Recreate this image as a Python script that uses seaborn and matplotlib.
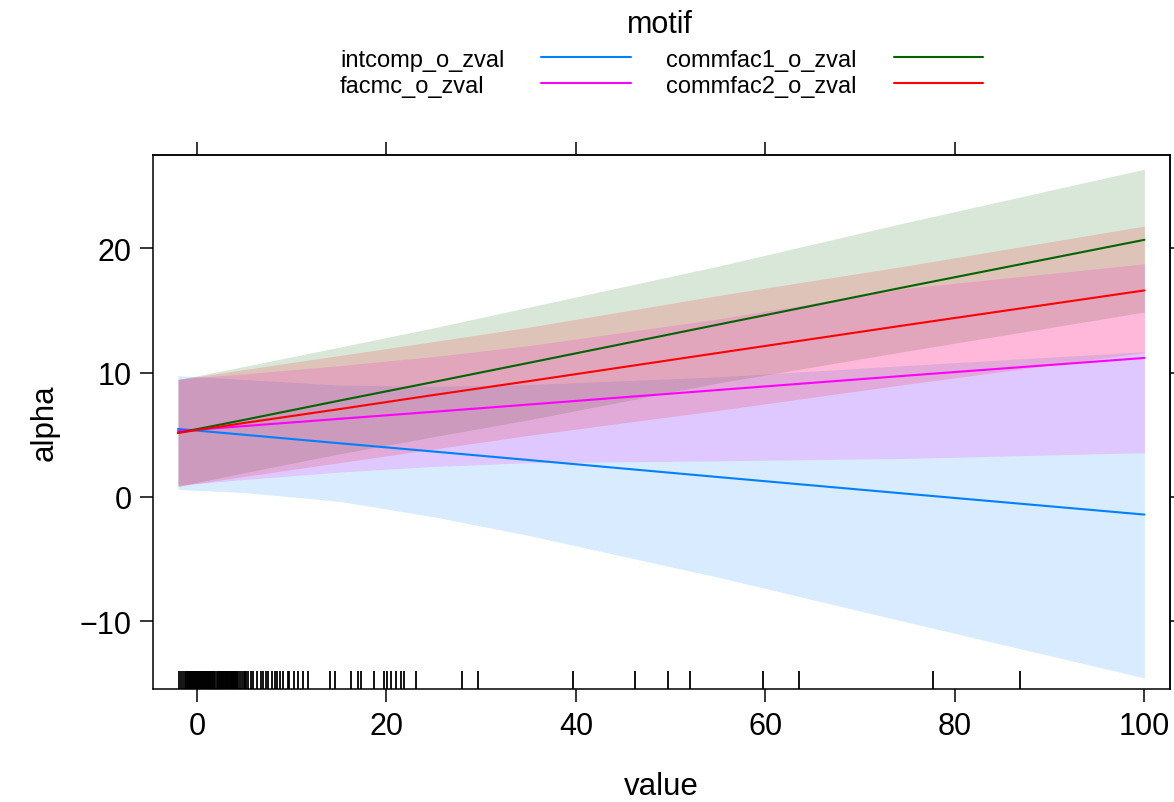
import numpy as np
import pandas as pd
import matplotlib
matplotlib.use("Agg")
import matplotlib.pyplot as plt
from matplotlib.lines import Line2D
import seaborn as sns

# ---- data ----
motifs = ["intcomp_o_zval", "facmc_o_zval", "commfac1_o_zval", "commfac2_o_zval"]
colors = ["#0080FF", "#FF00FF", "#006400", "#FF0000"]

x_pts = [-2, 5, 15, 25, 35, 55, 75, 100]

fit_intcomp = [5.47, 5.0, 4.32, 3.65, 2.97, 1.60, 0.25, -1.42]
lo_intcomp = [0.6, 0.35, -0.35, -1.6, -3.1, -6.46, -10.08, -14.56]
hi_intcomp = [9.76, 9.45, 9.0, 8.9, 9.04, 9.66, 10.58, 11.68]

fit_facmc = [5.30, 5.70, 6.28, 6.85, 7.43, 8.60, 9.76, 11.18]
lo_facmc = [0.95, 1.4, 2.0, 2.45, 2.75, 2.9, 3.1, 3.56]
hi_facmc = [9.5, 9.9, 10.56, 11.3, 12.17, 14.32, 16.8, 18.75]

fit_commfac1 = [5.15, 6.2, 7.74, 9.25, 10.78, 13.86, 16.92, 20.68]
lo_commfac1 = [0.85, 1.95, 3.46, 4.85, 6.2, 9.16, 11.74, 14.87]
hi_commfac1 = [9.44, 10.5, 12.04, 13.6, 15.26, 18.56, 22.1, 26.36]

fit_commfac2 = [5.15, 5.95, 7.06, 8.2, 9.31, 11.58, 13.84, 16.61]
lo_commfac2 = [0.85, 1.65, 2.75, 3.85, 4.95, 6.96, 9.08, 11.6]
hi_commfac2 = [9.44, 10.25, 11.37, 12.5, 13.65, 16.2, 18.6, 21.79]

rug_values = [-1.87, -1.69, -1.44, -1.27, -1.15, -1.0, -0.9, -0.8, -0.7, -0.6, -0.5, -0.4,
              -0.3, -0.2, -0.1, 0.0, 0.1, 0.2, 0.3, 0.4, 0.5, 0.63, 0.75, 0.85, 0.95, 1.05,
              1.15, 1.25, 1.35, 1.45, 1.55, 1.65, 1.75, 1.85, 1.95, 2.08, 2.22, 2.35, 2.45,
              2.55, 2.65, 2.75, 2.85, 2.95, 3.05, 3.15, 3.25, 3.35, 3.45, 3.55, 3.65, 3.75,
              3.85, 3.95, 4.05, 4.15, 4.25, 4.35, 4.54, 4.72, 4.96, 5.07, 5.17, 5.42, 5.67,
              5.88, 6.3, 6.72, 7.0, 7.28, 7.53, 7.88, 8.23, 8.48, 8.76, 9.08, 9.57, 9.74,
              10.24, 10.69, 11.22, 11.75, 14.0, 14.6, 16.3, 17.0, 17.3, 18.7, 19.7, 20.1,
              20.5, 21.0, 21.5, 21.9, 23.1, 28.0, 29.7, 39.7, 46.2, 49.7, 52.0, 59.7, 63.5,
              77.7, 86.9]

fits = [fit_intcomp, fit_facmc, fit_commfac1, fit_commfac2]
los = [lo_intcomp, lo_facmc, lo_commfac1, lo_commfac2]
his = [hi_intcomp, hi_facmc, hi_commfac1, hi_commfac2]

rows = []
for m, f, lo, hi in zip(motifs, fits, los, his):
    for xv, fv, lv, hv in zip(x_pts, f, lo, hi):
        rows.append({"value": xv, "alpha": fv, "lo": lv, "hi": hv, "motif": m})
df = pd.DataFrame(rows)

sns.set_theme(style="white")
plt.rcParams["font.family"] = ["Liberation Sans", "DejaVu Sans"]
plt.rcParams["text.color"] = "black"
plt.rcParams["axes.labelcolor"] = "black"
plt.rcParams["xtick.color"] = "black"
plt.rcParams["ytick.color"] = "black"

fig = plt.figure(figsize=(11.74, 8.03), dpi=100)
ax = fig.add_axes([0.1303, 0.1407, 0.9966 - 0.1303, 0.8057 - 0.1407])

palette = dict(zip(motifs, colors))
draw_order = ["intcomp_o_zval", "commfac1_o_zval", "facmc_o_zval", "commfac2_o_zval"]
for m in draw_order:
    d = df[df["motif"] == m]
    ax.fill_between(d["value"], d["lo"], d["hi"], color=palette[m], alpha=0.15,
                    linewidth=0, zorder=1)

sns.lineplot(data=df, x="value", y="alpha", hue="motif", hue_order=motifs,
             palette=palette, linewidth=1.5, legend=False, ax=ax, zorder=3,
             estimator=None, sort=True)

sns.rugplot(x=rug_values, height=0.034, color="black", linewidth=1.3, ax=ax,
            expand_margins=False, zorder=2)

ax.set_xlim(-4.64, 102.7)
ax.set_ylim(-15.45, 27.5)
ax.set_xticks([0, 20, 40, 60, 80, 100])
ax.set_yticks([-10, 0, 10, 20])
ax.set_yticklabels(["\u221210", "0", "10", "20"])
ax.tick_params(axis="both", direction="out", length=9.5, width=1.1, labelsize=22,
               colors="black", pad=6, bottom=True, left=True)
for s in ax.spines.values():
    s.set_color("black")
    s.set_linewidth(1.1)

sec_top = ax.secondary_xaxis("top")
sec_top.set_xticks([0, 20, 40, 60, 80])
sec_top.tick_params(direction="out", length=9.5, width=1.1, labeltop=False)
sec_top.set_xticklabels([])
sec_right = ax.secondary_yaxis("right")
sec_right.set_yticks([-10, 0, 10, 20])
sec_right.tick_params(direction="out", length=9.5, width=1.1, labelright=False)
sec_right.set_yticklabels([])

ax.set_xlabel("value", fontsize=22.5, labelpad=22)
ax.set_ylabel("alpha", fontsize=22.5, labelpad=14)

# legend (lattice style: text then line, two columns)
fig.text(0.562, 0.969, "motif", fontsize=22, ha="center", va="center")
rows_y = [0.9245, 0.892]
col_text_x = [0.2896, 0.5673]
col_line_x = [(0.4608, 0.5375), (0.7615, 0.8373)]
for i, m in enumerate(motifs):
    c, r = divmod(i, 2)
    fig.text(col_text_x[c], rows_y[r], m, fontsize=17, ha="left", va="center")
    fig.add_artist(Line2D(list(col_line_x[c]), [rows_y[r] + 0.003, rows_y[r] + 0.003],
                          color=palette[m], linewidth=1.5, transform=fig.transFigure))

fig.savefig("out.png", dpi=100)
